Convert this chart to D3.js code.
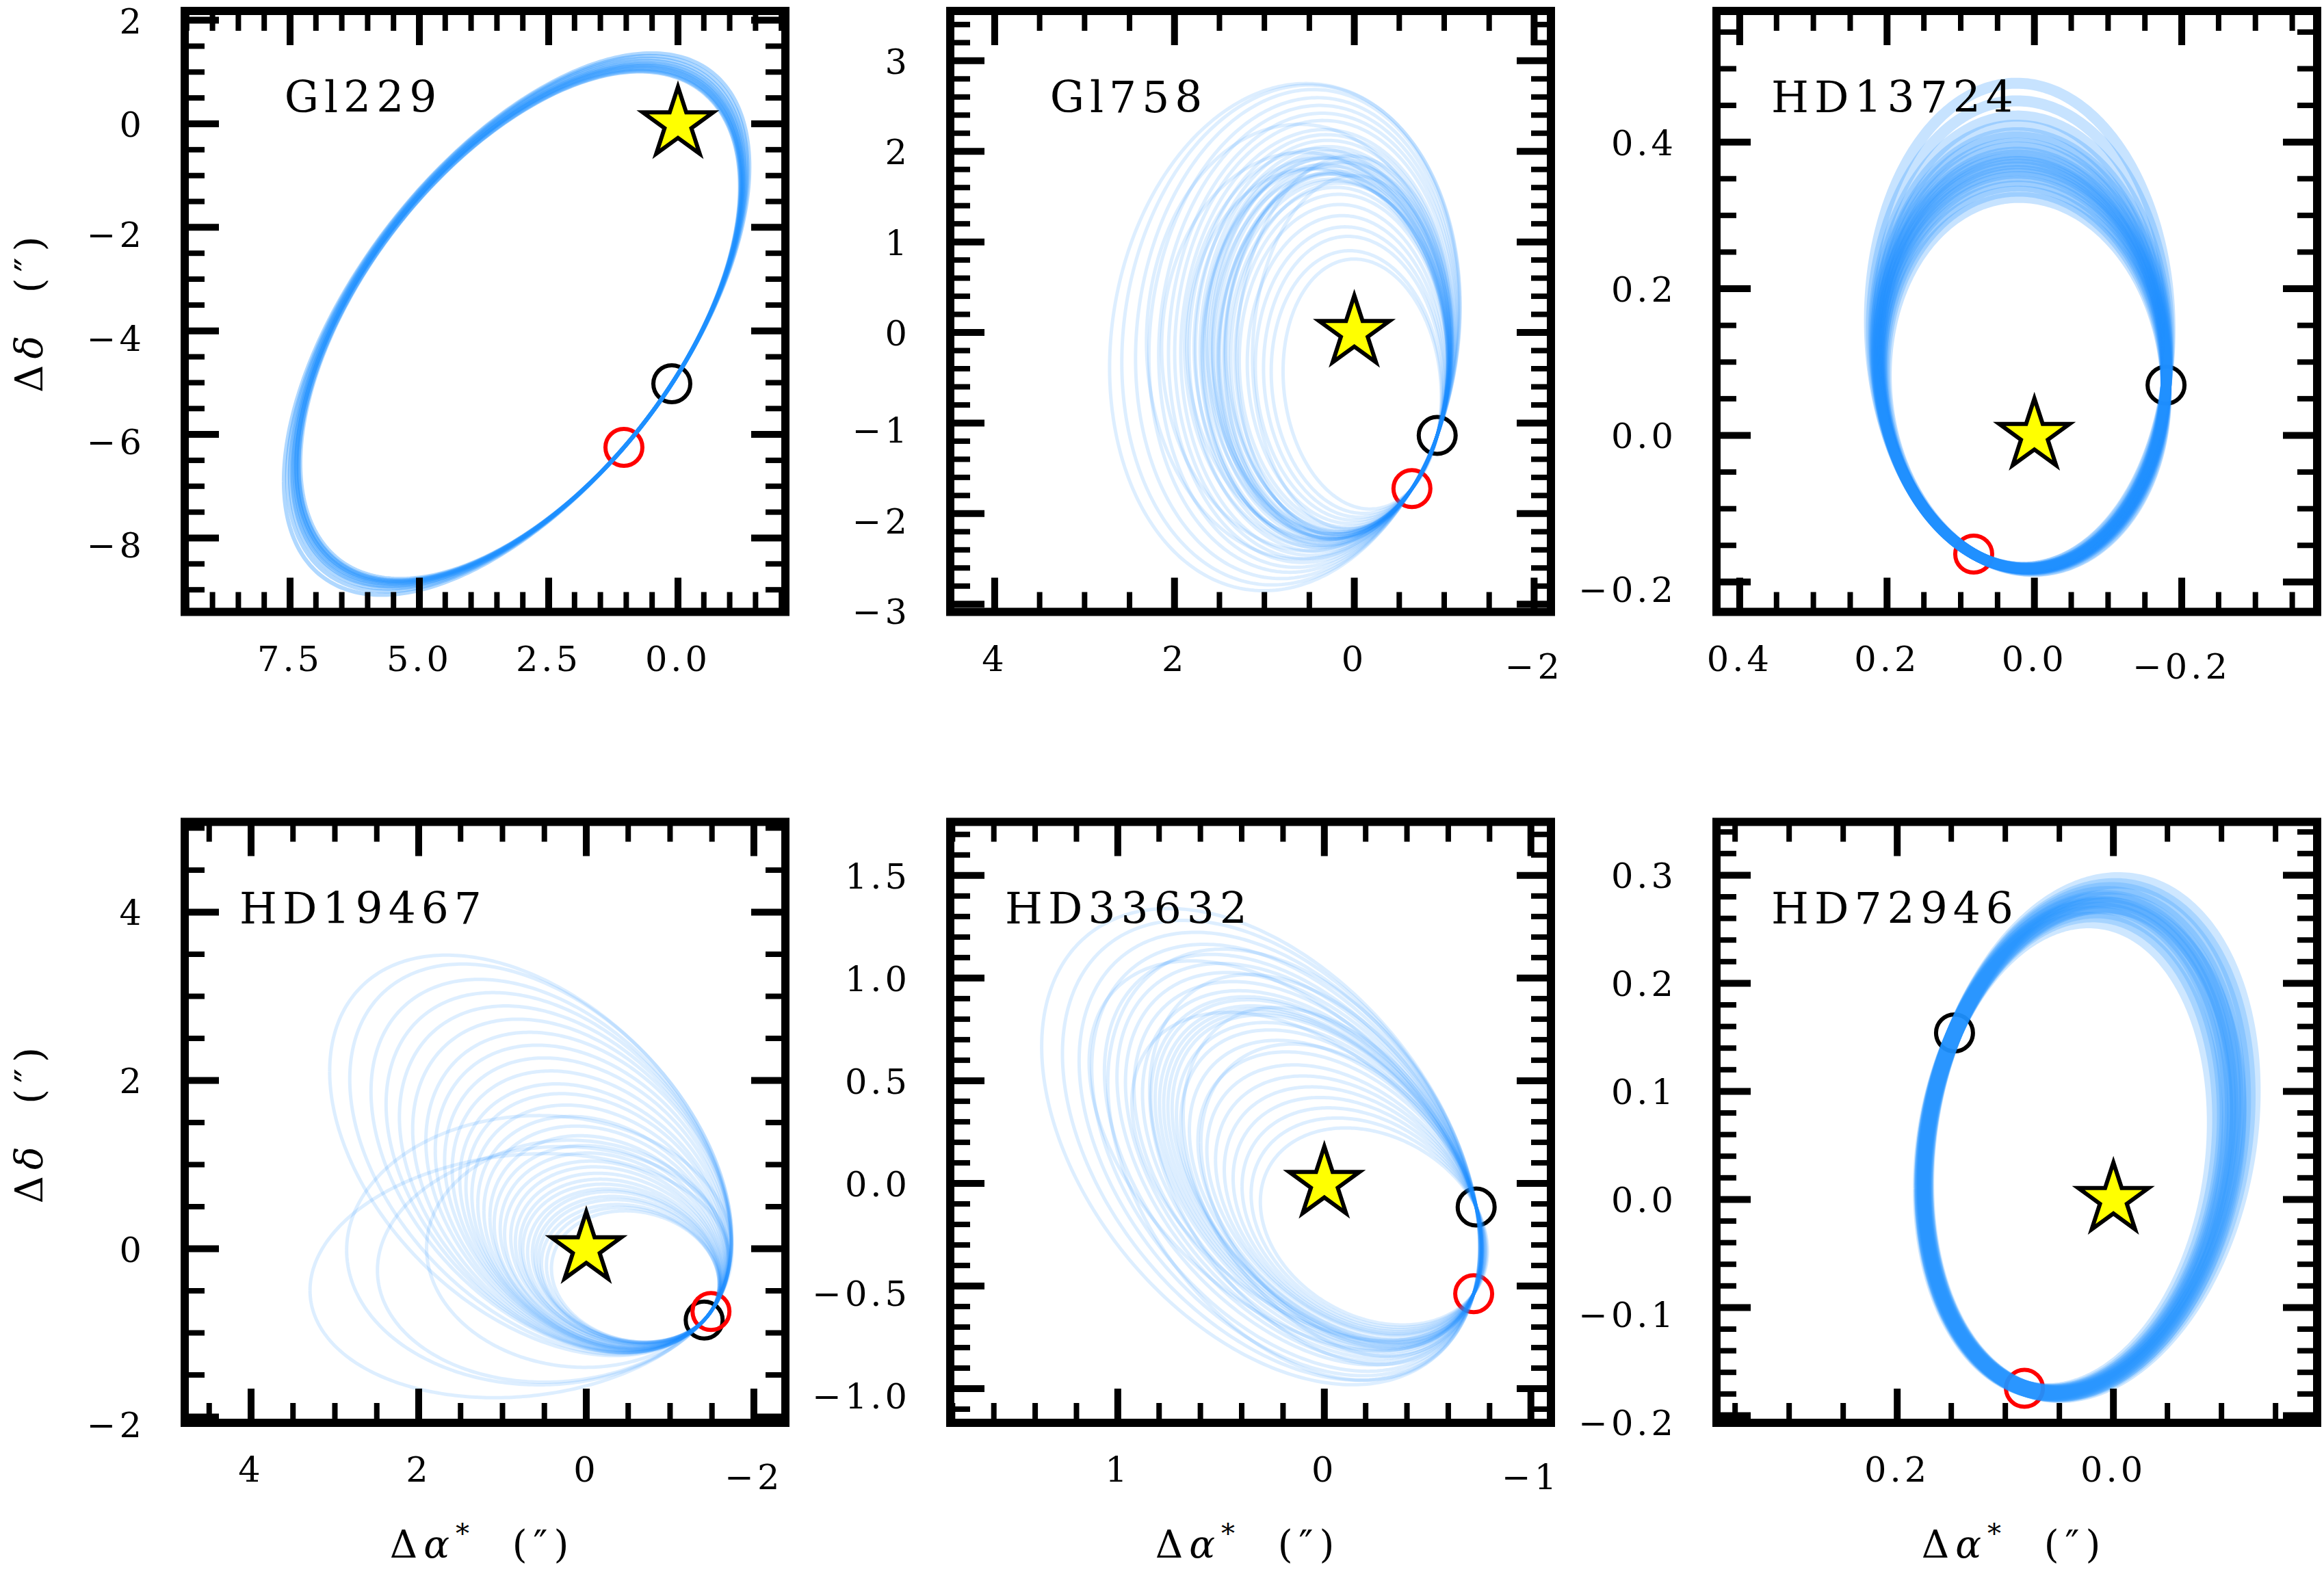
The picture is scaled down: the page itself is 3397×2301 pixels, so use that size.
<!DOCTYPE html>
<html>
<head>
<meta charset="utf-8">
<script src="https://cdn.jsdelivr.net/npm/d3@7"></script>
<style>
body{margin:0;background:#fff}
text{font-family:"DejaVu Serif",serif;fill:#000}
</style>
</head>
<body>
<svg id="fig"></svg>
<script>
// ---- data (arcsec) ----
var names = ["Gl229", "Gl758", "HD13724", "HD19467", "HD33632", "HD72946"];

var xDomains = [[9.537, -2.077], [4.494, -2.187], [0.4315, -0.3838], [4.792, -2.376], [1.811, -1.097], [0.3672, -0.1885]];
var yDomains = [[-9.427, 2.18], [-3.085, 3.55], [-0.2407, 0.5788], [-2.069, 5.073], [-1.1666, 1.761], [-0.2067, 0.3493]];

var xTicks = [[7.5, 5.0, 2.5, 0.0], [4, 2, 0, -2], [0.4, 0.2, 0.0, -0.2], [4, 2, 0, -2], [1, 0, -1], [0.2, 0.0]];
var yTicks = [[2, 0, -2, -4, -6, -8], [3, 2, 1, 0, -1, -2, -3], [0.4, 0.2, 0.0, -0.2], [4, 2, 0, -2], [1.5, 1.0, 0.5, 0.0, -0.5, -1.0], [0.3, 0.2, 0.1, 0.0, -0.1, -0.2]];
var xDecimals = [1, 0, 1, 0, 0, 1];
var yDecimals = [0, 0, 1, 0, 1, 1];
var xMinorStep = [0.5, 0.5, 0.05, 0.5, 0.2, 0.05];
var yMinorStep = [0.5, 0.2, 0.05, 0.5, 0.1, 0.02];

// measured positions (black = first epoch, red = second epoch)
var blackObs = [[0.119, -5.02], [-0.922, -1.137], [-0.1787, 0.0685], [-1.407, -0.847], [-0.735, -0.115], [0.147, 0.154]];
var redObs = [[1.045, -6.25], [-0.641, -1.724], [0.0824, -0.1618], [-1.488, -0.746], [-0.723, -0.538], [0.0823, -0.1747]];

// orbit shapes: [half width in x, half height in y, tilt]
var shapesGl229 = [
  [4.25, 4.90, -0.545], [4.27, 4.92, -0.548], [4.28, 4.94, -0.55], [4.30, 4.96, -0.55],
  [4.31, 4.98, -0.552], [4.32, 5.00, -0.555], [4.34, 5.02, -0.556], [4.36, 5.05, -0.56],
  [4.38, 5.08, -0.562], [4.41, 5.12, -0.566], [4.45, 5.17, -0.572], [4.50, 5.23, -0.58]
];
var shapesGl758 = [
  [0.88, 1.38, 0.10], [0.95, 1.45, 0.08], [1.00, 1.55, 0.06], [1.05, 1.62, 0.05], [1.10, 1.70, 0.04],
  [1.15, 1.78, 0.03], [1.18, 1.85, 0.02], [1.22, 1.90, 0.02], [1.25, 1.95, 0.01], [1.28, 2.00, 0.00],
  [1.30, 2.05, 0.00], [1.32, 2.08, -0.01], [1.35, 2.12, -0.01], [1.38, 2.15, -0.02], [1.40, 2.20, -0.02],
  [1.43, 2.25, -0.03], [1.47, 2.30, -0.04], [1.52, 2.35, -0.05], [1.56, 2.42, -0.06], [1.60, 2.48, -0.07],
  [1.66, 2.55, -0.08], [1.72, 2.62, -0.09], [1.80, 2.70, -0.10], [1.88, 2.76, -0.11], [1.95, 2.80, -0.12],
  [1.20, 2.10, -0.05], [1.45, 2.05, 0.05], [1.60, 2.20, 0.02], [1.10, 1.95, -0.03], [1.70, 2.40, 0.00],
  [1.21, 1.93, 0.00], [1.24, 1.98, 0.03], [1.27, 1.96, 0.02], [1.29, 2.03, -0.02], [1.31, 1.99, 0.04],
  [1.33, 2.10, 0.01], [1.36, 2.06, 0.03], [1.39, 2.18, -0.03], [1.42, 2.12, 0.02], [1.26, 2.08, -0.04],
  [1.34, 2.02, 0.06], [1.48, 2.20, 0.00]
];
var shapesHD13724 = [
  [0.190, 0.255, 0.05], [0.191, 0.259, 0.05], [0.192, 0.262, 0.045], [0.193, 0.265, 0.045],
  [0.193, 0.268, 0.04], [0.194, 0.270, 0.04], [0.194, 0.272, 0.04], [0.195, 0.274, 0.035],
  [0.195, 0.276, 0.035], [0.195, 0.278, 0.04], [0.196, 0.280, 0.04], [0.196, 0.282, 0.035],
  [0.196, 0.284, 0.035], [0.197, 0.287, 0.03], [0.197, 0.290, 0.035], [0.198, 0.294, 0.03],
  [0.198, 0.297, 0.03], [0.199, 0.302, 0.03], [0.200, 0.308, 0.025], [0.202, 0.318, 0.02],
  [0.204, 0.330, 0.02]
];
var shapesHD19467 = [
  [1.00, 0.78, 0.12], [1.03, 0.80, 0.14], [1.06, 0.82, 0.15], [1.08, 0.85, 0.16], [1.10, 0.87, 0.17],
  [1.12, 0.90, 0.18], [1.15, 0.92, 0.18], [1.18, 0.95, 0.19], [1.20, 0.98, 0.20], [1.23, 1.02, 0.20],
  [1.26, 1.06, 0.21], [1.30, 1.10, 0.21], [1.33, 1.15, 0.22], [1.37, 1.20, 0.22], [1.40, 1.26, 0.23],
  [1.44, 1.32, 0.24], [1.48, 1.38, 0.25], [1.52, 1.45, 0.26], [1.56, 1.52, 0.27], [1.60, 1.58, 0.28],
  [1.65, 1.66, 0.29], [1.70, 1.74, 0.30], [1.76, 1.82, 0.31], [1.82, 1.90, 0.32], [1.90, 1.98, 0.34],
  [1.98, 2.06, 0.36], [2.06, 2.14, 0.38], [2.15, 2.22, 0.40], [2.28, 2.32, 0.41], [2.40, 2.38, 0.42],
  [1.80, 1.35, 0.05], [2.10, 1.40, -0.05], [2.50, 1.45, -0.12], [2.30, 1.60, 0.00]
];
var shapesHD33632 = [
  [0.55, 0.48, 0.25], [0.57, 0.51, 0.27], [0.59, 0.54, 0.29], [0.61, 0.57, 0.31], [0.63, 0.60, 0.33],
  [0.65, 0.63, 0.35], [0.67, 0.66, 0.37], [0.69, 0.70, 0.38], [0.71, 0.73, 0.40], [0.73, 0.76, 0.41],
  [0.74, 0.78, 0.42], [0.75, 0.80, 0.43], [0.76, 0.81, 0.43], [0.77, 0.82, 0.43], [0.78, 0.83, 0.43],
  [0.79, 0.85, 0.43], [0.80, 0.86, 0.43], [0.82, 0.88, 0.43], [0.84, 0.91, 0.43], [0.86, 0.94, 0.43],
  [0.88, 0.97, 0.43], [0.91, 1.00, 0.43], [0.94, 1.04, 0.42], [0.97, 1.08, 0.42], [1.01, 1.12, 0.42],
  [1.06, 1.16, 0.42], [0.72, 0.85, 0.38], [0.85, 0.80, 0.45], [0.80, 0.95, 0.40], [0.95, 0.95, 0.48],
  [0.68, 0.74, 0.35], [0.90, 1.05, 0.38]
];
var shapesHD72946 = [
  [0.136, 0.218, -0.14], [0.138, 0.221, -0.145], [0.140, 0.223, -0.15], [0.141, 0.225, -0.155],
  [0.142, 0.226, -0.155], [0.143, 0.228, -0.16], [0.144, 0.229, -0.16], [0.145, 0.231, -0.165],
  [0.147, 0.233, -0.17], [0.149, 0.235, -0.175], [0.151, 0.238, -0.18], [0.146, 0.226, -0.15]
];
var orbitShapes = [shapesGl229, shapesGl758, shapesHD13724, shapesHD19467, shapesHD33632, shapesHD72946];

// ---- layout / style ----
var W = 3397, H = 2301;
var colX = [270, 1389, 2509], rowY = [16, 1201.5], pw = 878, ph = 878.5;
var blue = "#1e90ff";
var orbitWidth = [6, 5, 16, 5, 5, 24];
var orbitOpacity = [0.35, 0.15, 0.25, 0.15, 0.15, 0.22];

var svg = d3.select("#fig").attr("width", W).attr("height", H);
svg.append("rect").attr("width", W).attr("height", H).attr("fill", "#fff");

// place an ellipse of given shape so that it runs through both observed points
function placeOrbit(shape, b, r) {
  var hx = shape[0], hy = shape[1], rho = shape[2], s = Math.sqrt(1 - rho * rho);
  function toCircle(p) { var u = p[0] / hx; return [u, (p[1] / hy - rho * u) / s]; }
  function fromCircle(q) { return [hx * q[0], hy * (rho * q[0] + s * q[1])]; }
  var md = toCircle([r[0] - b[0], r[1] - b[1]]);
  var L = Math.hypot(md[0], md[1]);
  var h = Math.sqrt(Math.max(0, 1 - L * L / 4));
  var n = [-md[1] / L, md[0] / L];
  var m = [(b[0] + r[0]) / 2, (b[1] + r[1]) / 2];
  var best = null;
  [1, -1].forEach(function(sg) {
    var off = fromCircle([sg * h * n[0], sg * h * n[1]]);
    var c = [m[0] - off[0], m[1] - off[1]];
    var q = toCircle([-c[0], -c[1]]);
    var dist = q[0] * q[0] + q[1] * q[1];
    if (!best || dist < best.dist) best = {c: c, dist: dist};
  });
  var c = best.c;
  return d3.range(0, 361).map(function(i) {
    var t = i / 360 * 2 * Math.PI;
    return [c[0] + hx * Math.cos(t), c[1] + hy * (rho * Math.cos(t) + s * Math.sin(t))];
  });
}

function starPath(R) {
  var pts = d3.range(10).map(function(k) {
    var a = -Math.PI / 2 + k * Math.PI / 5, rr = k % 2 ? R * 0.381966 : R;
    return [rr * Math.cos(a), rr * Math.sin(a)];
  });
  return "M" + pts.map(function(p) { return p[0].toFixed(2) + "," + p[1].toFixed(2); }).join("L") + "Z";
}

function fmt(v, dec) {
  return d3.format("." + dec + "f")(v).replace("-", "\u2212");
}

function minorValues(dom, step) {
  var lo = Math.min(dom[0], dom[1]), hi = Math.max(dom[0], dom[1]);
  return d3.range(Math.ceil(lo / step - 1e-9), Math.floor(hi / step + 1e-9) + 1).map(function(k) { return k * step; });
}

names.forEach(function(name, i) {
  var col = i % 3, row = Math.floor(i / 3);
  var x0 = colX[col], y0 = rowY[row];
  var xs = d3.scaleLinear().domain(xDomains[i]).range([x0, x0 + pw]);
  var ys = d3.scaleLinear().domain(yDomains[i]).range([y0 + ph, y0]);
  var g = svg.append("g");

  g.append("clipPath").attr("id", "clip" + i)
    .append("rect").attr("x", x0).attr("y", y0).attr("width", pw).attr("height", ph);

  var inner = g.append("g").attr("clip-path", "url(#clip" + i + ")");

  // observed positions
  inner.append("circle").attr("cx", xs(blackObs[i][0])).attr("cy", ys(blackObs[i][1])).attr("r", 27)
    .attr("fill", "none").attr("stroke", "#000").attr("stroke-width", 6);
  inner.append("circle").attr("cx", xs(redObs[i][0])).attr("cy", ys(redObs[i][1])).attr("r", 27)
    .attr("fill", "none").attr("stroke", "#ff0000").attr("stroke-width", 6);

  // orbits
  var line = d3.line().x(function(d) { return xs(d[0]); }).y(function(d) { return ys(d[1]); });
  inner.selectAll("path.orbit").data(orbitShapes[i]).enter().append("path")
    .attr("class", "orbit")
    .attr("d", function(d) { return line(placeOrbit(d, blackObs[i], redObs[i])); })
    .attr("fill", "none")
    .attr("stroke", blue)
    .attr("stroke-width", orbitWidth[i])
    .attr("stroke-opacity", orbitOpacity[i]);

  // host star
  inner.append("path").attr("d", starPath(54))
    .attr("transform", "translate(" + xs(0) + "," + ys(0) + ")")
    .attr("fill", "#ffff00").attr("stroke", "#000").attr("stroke-width", 6).attr("stroke-linejoin", "miter");

  // ticks on all four sides, pointing in
  var tk = g.append("g").attr("stroke", "#000");
  function xTick(v, len, wid) {
    var X = xs(v);
    tk.append("line").attr("x1", X).attr("x2", X).attr("y1", y0 + ph).attr("y2", y0 + ph - len).attr("stroke-width", wid);
    tk.append("line").attr("x1", X).attr("x2", X).attr("y1", y0).attr("y2", y0 + len).attr("stroke-width", wid);
  }
  function yTick(v, len, wid) {
    var Y = ys(v);
    tk.append("line").attr("y1", Y).attr("y2", Y).attr("x1", x0).attr("x2", x0 + len).attr("stroke-width", wid);
    tk.append("line").attr("y1", Y).attr("y2", Y).attr("x1", x0 + pw).attr("x2", x0 + pw - len).attr("stroke-width", wid);
  }
  minorValues(xDomains[i], xMinorStep[i]).forEach(function(v) { xTick(v, 29, 8); });
  minorValues(yDomains[i], yMinorStep[i]).forEach(function(v) { yTick(v, 29, 8); });
  xTicks[i].forEach(function(v) { xTick(v, 50, 10); });
  yTicks[i].forEach(function(v) { yTick(v, 50, 10); });

  // frame
  g.append("rect").attr("x", x0).attr("y", y0).attr("width", pw).attr("height", ph)
    .attr("fill", "none").attr("stroke", "#000").attr("stroke-width", 12);

  // tick labels
  g.selectAll("text.xl").data(xTicks[i]).enter().append("text")
    .attr("x", function(v) { return xs(v); })
    .attr("y", function(v) { return y0 + ph + 86 + (v < 0 ? 11 : 0); })
    .attr("text-anchor", "middle")
    .style("font-size", "51px").style("letter-spacing", "5px")
    .text(function(v) { return fmt(v, xDecimals[i]); });
  g.selectAll("text.yl").data(yTicks[i]).enter().append("text")
    .attr("x", x0 - 58)
    .attr("y", function(v) { return ys(v) + 19 + (v < 0 ? 10 : 0); })
    .attr("text-anchor", "end")
    .style("font-size", "51px").style("letter-spacing", "5px")
    .text(function(v) { return fmt(v, yDecimals[i]); });

  // star name
  g.append("text").attr("x", x0 + 261).attr("y", y0 + 148)
    .attr("text-anchor", "middle")
    .style("font-size", "63px").style("letter-spacing", "8px")
    .text(name);

  // axis labels
  if (row === 1) {
    var xl = g.append("text").attr("x", x0 + pw / 2 - 4).attr("y", 2277)
      .attr("text-anchor", "middle").style("font-size", "56px").style("letter-spacing", "9px")
      .attr("xml:space", "preserve");
    xl.append("tspan").text("\u0394");
    xl.append("tspan").style("font-style", "italic").text("\u03b1");
    xl.append("tspan").attr("dy", -22).style("font-size", "40px").text("*");
    xl.append("tspan").attr("dy", 22).text("  (\u2033)");
  }
  if (col === 0) {
    var yl = g.append("text")
      .attr("transform", "translate(62," + (y0 + ph / 2) + ") rotate(-90)")
      .attr("text-anchor", "middle").style("font-size", "56px").style("letter-spacing", "9px")
      .attr("xml:space", "preserve");
    yl.append("tspan").text("\u0394");
    yl.append("tspan").style("font-style", "italic").text("\u03b4");
    yl.append("tspan").text("  (\u2033)");
  }
});
</script>
</body>
</html>
